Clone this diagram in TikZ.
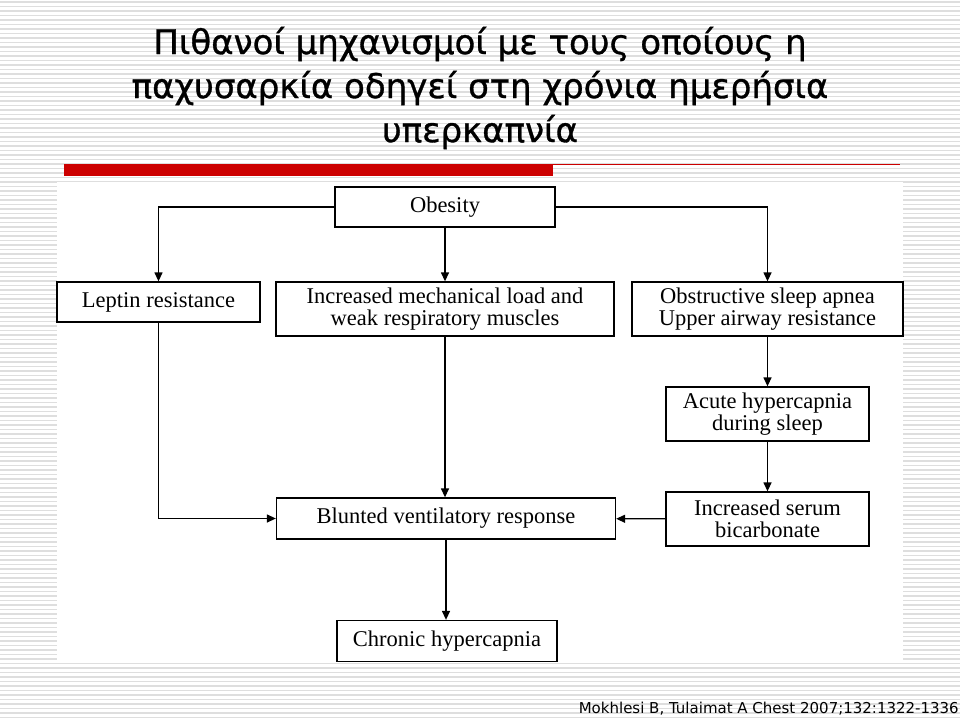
\documentclass[tikz,border=0pt]{standalone}
\usepackage{fontspec}
\setmainfont{Liberation Serif}
\newfontfamily\titlefont[FakeBold=1.0]{DejaVu Sans}
\newfontfamily\citefont{DejaVu Sans}
\usetikzlibrary{arrows.meta}

\begin{document}
\begin{tikzpicture}[x=1pt,y=-1pt,
  box/.style={draw,line width=1.3pt,fill=white,inner sep=0pt,align=center,
    font=\fontsize{22.5}{22.5}\selectfont},
  arr/.style={line width=1.3pt,-{Triangle[length=9pt,width=8pt]}}]

\useasboundingbox (0,0) rectangle (960,719);

% slide background
\fill[white] (0,0) rectangle (960,719);
\foreach \y in {2,6.5,...,719}
  \draw[black!13,line width=1.5pt] (0,\y) -- (960,\y);
\fill[white] (57,182) rectangle (903,662);

% title and rule
\node[font=\titlefont\fontsize{34}{44}\selectfont,align=center] (title) at (480,88)
  {Πιθανοί μηχανισμοί με τους οποίους η\\παχυσαρκία οδηγεί στη χρόνια ημερήσια\\υπερκαπνία};
\fill[red!80!black] (64,164) rectangle (553,176);
\draw[red!80!black,line width=1pt] (553,164.5) -- (900,164.5);

% boxes
\node[box,minimum width=220pt,minimum height=40pt] (obesity) at (445,207) {Obesity};
\node[box,minimum width=203pt,minimum height=40pt] (leptin) at (158.5,302) {Leptin resistance};
\node[box,minimum width=338pt,minimum height=54pt] (load) at (445,309)
  {Increased mechanical load and\\weak respiratory muscles};
\node[box,minimum width=271pt,minimum height=54pt] (osa) at (767.5,309)
  {Obstructive sleep apnea\\Upper airway resistance};
\node[box,minimum width=203pt,minimum height=54pt] (acute) at (767.5,414)
  {Acute hypercapnia\\during sleep};
\node[box,minimum width=203pt,minimum height=54pt] (bicarb) at (767.5,519)
  {Increased serum\\bicarbonate};
\node[box,minimum width=339pt,minimum height=41pt] (blunted) at (446,518.5)
  {Blunted ventilatory response};
\node[box,minimum width=220pt,minimum height=41pt] (chronic) at (447,641)
  {Chronic hypercapnia};

% arrows
\draw[arr] (obesity.west) -| (leptin.north);
\draw[arr] (obesity.east) -| (osa.north);
\draw[arr] (obesity) -- (load);
\draw[arr] (leptin) |- (blunted);
\draw[arr] (load.south) -- (load.south |- blunted.north);
\draw[arr] (osa) -- (acute);
\draw[arr] (acute) -- (bicarb);
\draw[arr] (bicarb) -- (blunted);
\draw[arr] (blunted.south) -- (blunted.south |- chronic.north);

% reference
\node[font=\citefont\fontsize{15}{17}\selectfont,anchor=east,inner sep=0pt] (cite) at (959,709)
  {Mokhlesi B, Tulaimat A Chest 2007;132:1322-1336};

\end{tikzpicture}
\end{document}
